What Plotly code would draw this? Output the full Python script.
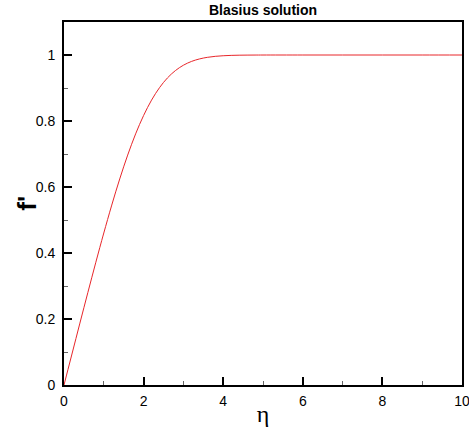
import plotly.graph_objects as go

# Blasius similarity solution (f''' + f f'' = 0 form)
eta = [0.0, 0.1, 0.2, 0.3, 0.4, 0.5, 0.6, 0.7, 0.8, 0.9, 1.0, 1.2, 1.4, 1.6, 1.8,
       2.0, 2.2, 2.4, 2.6, 2.8, 3.0, 3.2, 3.4, 3.6, 3.8, 4.0, 4.2, 4.4, 4.6, 4.8,
       5.0, 6.0, 7.0, 8.0, 9.0, 10.0]
fprime = [0.0, 0.04696, 0.09391, 0.14081, 0.18761, 0.23423, 0.28058, 0.32653,
          0.37196, 0.41672, 0.46063, 0.54525, 0.62439, 0.69670, 0.76106, 0.81669,
          0.86330, 0.90107, 0.93060, 0.95288, 0.96905, 0.98037, 0.98797, 0.99289,
          0.99594, 0.99777, 0.99882, 0.99940, 0.99970, 0.99986, 0.99994, 1.0, 1.0,
          1.0, 1.0, 1.0]

title_text = "Blasius solution"
x_label = "η"
y_label = "f'"
x_ticks = [0, 2, 4, 6, 8, 10]
y_ticks = [0, 0.2, 0.4, 0.6, 0.8, 1]
y_tick_text = ["0", "0.2", "0.4", "0.6", "0.8", "1"]

fig = go.Figure()
fig.add_trace(go.Scatter(x=eta, y=fprime, mode="lines",
                         line=dict(color="#e8262a", width=1, shape="spline"),
                         showlegend=False, hoverinfo="skip"))

axis_common = dict(
    showline=True, linecolor="black", linewidth=2, mirror=True,
    showgrid=False, zeroline=False, automargin=False,
    ticks="inside", ticklen=8, tickwidth=2, tickcolor="black",
    ticklabeloverflow="allow",
    tickfont=dict(family="Liberation Sans, Arial", size=14, color="black"),
    minor=dict(ticks="inside", ticklen=4, tickwidth=1, tickcolor="#666666", showgrid=False),
)

fig.update_layout(
    width=469, height=427,
    margin=dict(l=64, r=7, t=22, b=42),
    paper_bgcolor="white", plot_bgcolor="white",
    title=dict(text=title_text, x=0.5, xref="paper", xanchor="center",
               y=1, yref="container", yanchor="top", pad=dict(t=5),
               font=dict(family="Liberation Sans, Arial", size=14, color="black", weight="bold")),
    xaxis=dict(range=[0, 10], tickvals=x_ticks, ticklabelstandoff=2,
               title=dict(text=x_label, standoff=5,
                          font=dict(family="Liberation Serif, Times New Roman", size=24, color="black")),
               **axis_common),
    yaxis=dict(range=[0, 1.1], tickvals=y_ticks, ticktext=y_tick_text, ticklabelstandoff=4,
               **axis_common),
    annotations=[dict(text=y_label, textangle=-90, xref="paper", yref="paper",
                      x=-0.095, y=0.5, xanchor="center", yanchor="middle",
                      showarrow=False,
                      font=dict(family="Liberation Sans, Arial", size=26, color="black", weight="bold"))],
)
fig.update_xaxes(minor=dict(dtick=1))
fig.update_yaxes(minor=dict(dtick=0.1))

fig.write_html("out.html")
